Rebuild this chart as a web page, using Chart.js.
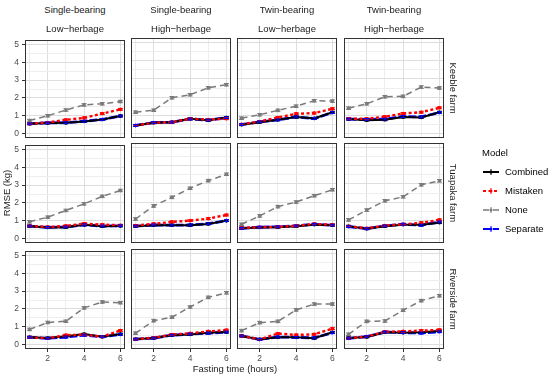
<!DOCTYPE html>
<html>
<head>
<meta charset="utf-8">
<script src="https://cdn.jsdelivr.net/npm/chart.js"></script>
<style>
  body { margin: 0; width: 550px; height: 378px; background: #fff; position: relative; overflow: hidden;
         font-family: "Liberation Sans", Arial, sans-serif; }
  canvas { position: absolute; }
  .txt { position: absolute; white-space: nowrap; text-align: center; }
  .strip { font-size: 9.5px; color: #1a1a1a; width: 100px; line-height: 12px; }
  .rot { transform: rotate(90deg); }
  .rotl { transform: rotate(-90deg); }
  .leg { position: absolute; font-size: 9.5px; color: #000; white-space: nowrap; line-height: 12px; }
</style>
</head>
<body>
<script>
// === DATA ===
const hours = [1, 2, 3, 4, 5, 6];
const farms = ["Keeble farm", "Tuapaka farm", "Riverside farm"];
const groups = [
    ["Single-bearing", "Low\u2212herbage"],
    ["Single-bearing", "High\u2212herbage"],
    ["Twin-bearing", "Low\u2212herbage"],
    ["Twin-bearing", "High\u2212herbage"]
];
const models = ["Combined", "Mistaken", "None", "Separate"];

// RMSE per [farm][group] over hours 1..6
const combined = [
    [[0.55, 0.59, 0.60, 0.68, 0.79, 0.99], [0.44, 0.59, 0.62, 0.81, 0.72, 0.88],
     [0.48, 0.62, 0.75, 0.90, 0.83, 1.17], [0.79, 0.73, 0.75, 0.90, 0.88, 1.17]],
    [[0.69, 0.62, 0.64, 0.77, 0.69, 0.71], [0.67, 0.73, 0.73, 0.73, 0.80, 0.98],
     [0.56, 0.60, 0.62, 0.67, 0.76, 0.73], [0.67, 0.53, 0.67, 0.76, 0.76, 0.87]],
    [[0.41, 0.37, 0.46, 0.59, 0.44, 0.59], [0.29, 0.35, 0.51, 0.55, 0.64, 0.68],
     [0.47, 0.28, 0.39, 0.39, 0.34, 0.67], [0.36, 0.41, 0.67, 0.65, 0.67, 0.74]]
];
const mistaken = [
    [[0.55, 0.62, 0.77, 0.88, 1.12, 1.36], [0.44, 0.59, 0.62, 0.81, 0.76, 0.81],
     [0.50, 0.66, 0.88, 1.08, 1.12, 1.36], [0.81, 0.81, 0.92, 1.10, 1.17, 1.41]],
    [[0.71, 0.65, 0.71, 0.84, 0.78, 0.75], [0.71, 0.80, 0.91, 0.98, 1.09, 1.29],
     [0.58, 0.62, 0.64, 0.69, 0.80, 0.75], [0.67, 0.56, 0.71, 0.78, 0.86, 1.02]],
    [[0.41, 0.35, 0.53, 0.55, 0.44, 0.79], [0.29, 0.37, 0.55, 0.61, 0.72, 0.79],
     [0.47, 0.28, 0.60, 0.52, 0.56, 0.87], [0.34, 0.43, 0.70, 0.72, 0.76, 0.80]]
];
const none = [
    [[0.73, 1.00, 1.32, 1.61, 1.67, 1.80], [1.17, 1.28, 1.96, 2.13, 2.51, 2.68],
     [0.84, 1.03, 1.27, 1.50, 1.80, 1.78], [1.39, 1.63, 2.02, 2.04, 2.55, 2.50]],
    [[0.94, 1.20, 1.58, 1.95, 2.37, 2.70], [1.07, 1.79, 2.26, 2.76, 3.18, 3.53],
     [0.78, 1.24, 1.75, 2.00, 2.35, 2.68], [1.02, 1.56, 2.07, 2.29, 2.95, 3.17]],
    [[0.85, 1.24, 1.31, 2.06, 2.39, 2.35], [0.62, 1.31, 1.50, 2.06, 2.59, 2.84],
     [0.76, 1.20, 1.27, 1.90, 2.22, 2.22], [0.56, 1.27, 1.29, 1.88, 2.41, 2.68]]
];
const separate = [
    [[0.55, 0.60, 0.61, 0.69, 0.79, 0.98], [0.44, 0.60, 0.62, 0.80, 0.73, 0.87],
     [0.49, 0.64, 0.75, 0.91, 0.82, 1.15], [0.79, 0.77, 0.79, 0.93, 0.91, 1.15]],
    [[0.70, 0.63, 0.65, 0.77, 0.70, 0.72], [0.68, 0.74, 0.73, 0.74, 0.81, 0.98],
     [0.56, 0.62, 0.64, 0.69, 0.78, 0.73], [0.65, 0.54, 0.69, 0.78, 0.73, 0.91]],
    [[0.41, 0.35, 0.42, 0.53, 0.44, 0.57], [0.29, 0.35, 0.51, 0.57, 0.62, 0.68],
     [0.47, 0.28, 0.41, 0.39, 0.36, 0.65], [0.34, 0.43, 0.68, 0.65, 0.63, 0.70]]
];
const modelErr = [0.05, 0.05, 0.07, 0.05];   // half-width of error bars

const xGrid = [1, 2, 3, 4, 5, 6];
const yGrid = [0, 0.5, 1, 1.5, 2, 2.5, 3, 3.5, 4, 4.5, 5];

// === STYLE ===
const modelStyle = [
    { color: "#000000", width: 2, dash: [], order: 2 },
    { color: "#ff0000", width: 2.4, dash: [3, 2.5], order: 1 },
    { color: "#7a7a7a", width: 1.5, dash: [6, 4], order: 0 },
    { color: "#0000ff", width: 2.8, dash: [8, 2], order: 3 }
];
const seriesData = [combined, mistaken, none, separate];

const colLeft = [25, 131, 237, 344];
const rowTop = [38, 143, 249];
const PW = 100, PH = 100, AX_W = 25, AX_H = 22, PAD_T = 6, PAD_R = 4;
const MAJOR = "#dedede", MINOR = "#eeeeee";

// === PLUGINS ===
const errorBars = {
    id: "errorBars",
    afterDatasetsDraw(chart) {
        const ctx = chart.ctx;
        const y = chart.scales.y;
        ctx.save();
        chart.data.datasets.forEach((ds, i) => {
            const meta = chart.getDatasetMeta(i);
            ctx.strokeStyle = ds.borderColor;
            ctx.lineWidth = 1;
            ctx.setLineDash([]);
            meta.data.forEach((pt, j) => {
                const v = ds.data[j].y;
                const t = y.getPixelForValue(v + ds.err);
                const b = y.getPixelForValue(v - ds.err);
                ctx.beginPath();
                ctx.moveTo(pt.x, t); ctx.lineTo(pt.x, b);
                ctx.moveTo(pt.x - 2.5, t); ctx.lineTo(pt.x + 2.5, t);
                ctx.moveTo(pt.x - 2.5, b); ctx.lineTo(pt.x + 2.5, b);
                ctx.stroke();
            });
        });
        ctx.restore();
    }
};

const panelBorder = {
    id: "panelBorder",
    afterDraw(chart) {
        const a = chart.chartArea;
        const ctx = chart.ctx;
        ctx.save();
        ctx.strokeStyle = "#333333";
        ctx.lineWidth = 1;
        ctx.strokeRect(Math.round(a.left) + 0.5, Math.round(a.top) + 0.5,
                       Math.round(a.right - a.left) - 1, Math.round(a.bottom - a.top) - 1);
        ctx.restore();
    }
};

// === PANELS ===
function makePanel(r, c) {
    const cv = document.createElement("canvas");
    cv.width = AX_W + PW + PAD_R;
    cv.height = PAD_T + PH + AX_H;
    cv.style.left = (colLeft[c] - AX_W) + "px";
    cv.style.top = (rowTop[r] - PAD_T) + "px";
    document.body.appendChild(cv);

    const datasets = models.map((m, k) => ({
        label: m,
        data: seriesData[k][r][c].map((v, j) => ({ x: hours[j], y: v })),
        borderColor: modelStyle[k].color,
        backgroundColor: modelStyle[k].color,
        borderWidth: modelStyle[k].width,
        borderDash: modelStyle[k].dash,
        pointRadius: 1.8,
        pointBorderWidth: 0,
        tension: 0,
        order: modelStyle[k].order,
        err: modelErr[k]
    }));

    const isLeft = c === 0, isBottom = r === 2;
    new Chart(cv, {
        type: "line",
        data: { datasets },
        plugins: [errorBars, panelBorder],
        options: {
            responsive: false,
            animation: false,
            devicePixelRatio: 1,
            layout: { padding: { top: PAD_T, right: PAD_R, left: 0, bottom: 0 } },
            plugins: { legend: { display: false }, tooltip: { enabled: false } },
            scales: {
                x: {
                    type: "linear", min: 0.75, max: 6.25,
                    afterBuildTicks: s => { s.ticks = xGrid.map(v => ({ value: v })); },
                    afterFit: s => { s.height = AX_H; },
                    border: { display: false },
                    grid: {
                        color: g => (g.tick && g.tick.value % 2 === 0) ? MAJOR : MINOR,
                        drawTicks: isBottom, tickLength: 3,
                        tickColor: g => (g.tick && g.tick.value % 2 === 0) ? "#333333" : "rgba(0,0,0,0)"
                    },
                    ticks: {
                        display: isBottom, autoSkip: false, maxRotation: 0, padding: 2,
                        color: "#4d4d4d", font: { family: "Liberation Sans", size: 8.5 },
                        callback: v => v % 2 === 0 ? v : ""
                    }
                },
                y: {
                    type: "linear", min: -0.25, max: 5.25,
                    afterBuildTicks: s => { s.ticks = yGrid.map(v => ({ value: v })); },
                    afterFit: s => { s.width = AX_W; },
                    border: { display: false },
                    grid: {
                        color: g => (g.tick && Number.isInteger(g.tick.value)) ? MAJOR : MINOR,
                        drawTicks: isLeft, tickLength: 3,
                        tickColor: g => (g.tick && Number.isInteger(g.tick.value)) ? "#333333" : "rgba(0,0,0,0)"
                    },
                    ticks: {
                        display: isLeft, autoSkip: false, padding: 3,
                        color: "#4d4d4d", font: { family: "Liberation Sans", size: 8.5 },
                        callback: v => Number.isInteger(v) ? v : ""
                    }
                }
            }
        }
    });
}

// === TEXT ===
function addText(cls, text, cx, cy, w, h) {
    const d = document.createElement("div");
    d.className = "txt " + cls;
    d.textContent = text;
    d.style.width = w + "px";
    d.style.height = h + "px";
    d.style.lineHeight = h + "px";
    d.style.left = (cx - w / 2) + "px";
    d.style.top = (cy - h / 2) + "px";
    document.body.appendChild(d);
}

function addLegend() {
    const x0 = 482, y0 = 153, step = 19;
    const t = document.createElement("div");
    t.className = "leg";
    t.textContent = "Model";
    t.style.left = x0 + "px";
    t.style.top = (y0 - 6) + "px";
    document.body.appendChild(t);

    const ns = "http://www.w3.org/2000/svg";
    const svg = document.createElementNS(ns, "svg");
    svg.setAttribute("width", 20);
    svg.setAttribute("height", 90);
    svg.style.position = "absolute";
    svg.style.left = "481px";
    svg.style.top = "160px";
    models.forEach((m, k) => {
        const cy = 172 + k * step - 160;
        const st = modelStyle[k];
        const ln = document.createElementNS(ns, "line");
        ln.setAttribute("x1", 2); ln.setAttribute("x2", 18);
        ln.setAttribute("y1", cy); ln.setAttribute("y2", cy);
        ln.setAttribute("stroke", st.color);
        ln.setAttribute("stroke-width", Math.min(st.width, 2));
        if (st.dash.length) ln.setAttribute("stroke-dasharray", st.dash.join(" "));
        svg.appendChild(ln);
        const eb = document.createElementNS(ns, "line");
        eb.setAttribute("x1", 10); eb.setAttribute("x2", 10);
        eb.setAttribute("y1", cy - 3); eb.setAttribute("y2", cy + 3);
        eb.setAttribute("stroke", st.color);
        svg.appendChild(eb);
        const pt = document.createElementNS(ns, "circle");
        pt.setAttribute("cx", 10); pt.setAttribute("cy", cy); pt.setAttribute("r", 1.5);
        pt.setAttribute("fill", st.color);
        svg.appendChild(pt);

        const lab = document.createElement("div");
        lab.className = "leg";
        lab.textContent = m;
        lab.style.left = "505px";
        lab.style.top = (172 + k * step - 6) + "px";
        document.body.appendChild(lab);
    });
    document.body.appendChild(svg);
}

// === INITIALIZE EVERYTHING ===
for (let r = 0; r < farms.length; r++) {
    for (let c = 0; c < groups.length; c++) makePanel(r, c);
}
groups.forEach((g, c) => {
    addText("strip", g[0], colLeft[c] + PW / 2, 10, 100, 12);
    addText("strip", g[1], colLeft[c] + PW / 2, 29, 100, 12);
});
farms.forEach((f, r) => {
    addText("strip rot", f, 453, rowTop[r] + PH / 2, 100, 12);
});
addText("strip rotl", "RMSE (kg)", 7, 193, 100, 12);
addText("strip", "Fasting time (hours)", 235, 369, 200, 12);
addLegend();
</script>
</body>
</html>
